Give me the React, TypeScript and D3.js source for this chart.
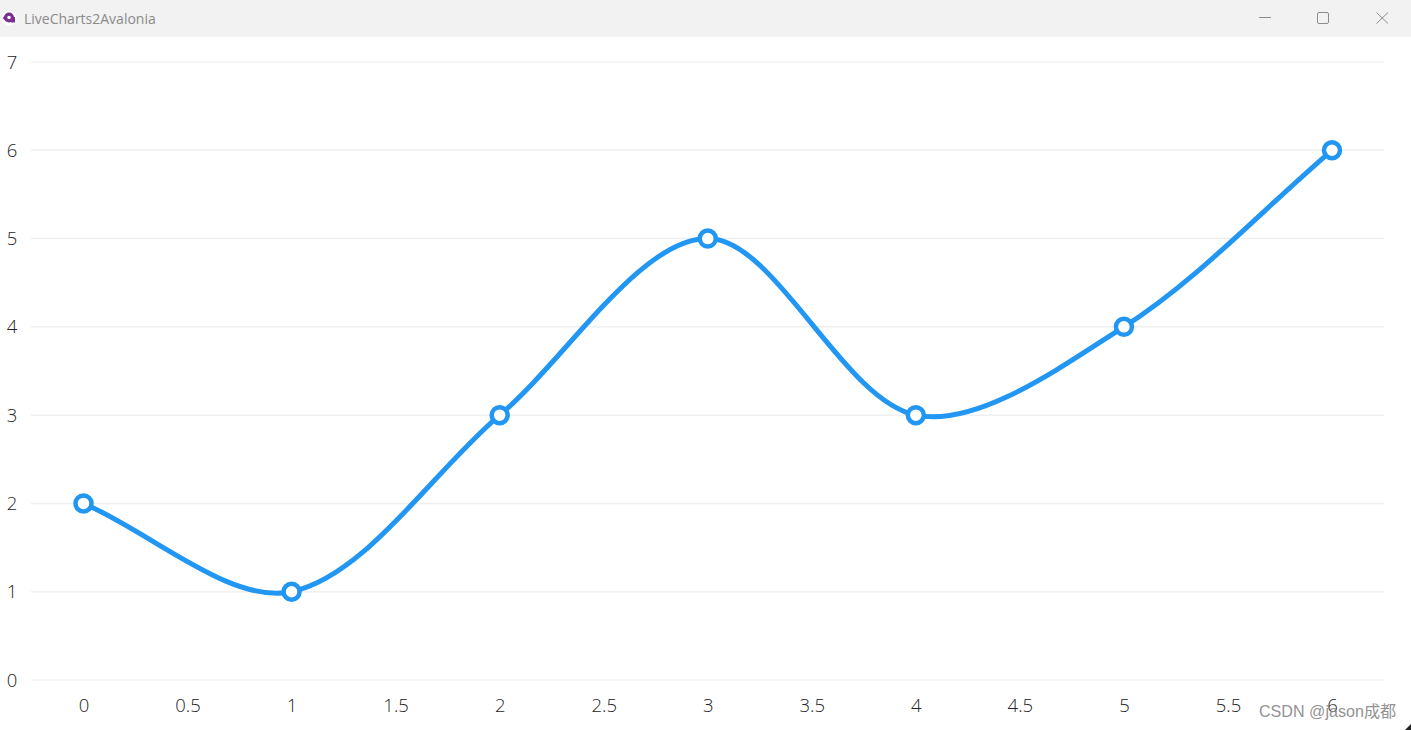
import React from "react";
import * as d3 from "d3";

const title = "LiveCharts2Avalonia";
const watermark = "CSDN @jason成都";
const xValues = [0, 1, 2, 3, 4, 5, 6];
const yValues = [2, 1, 3, 5, 3, 4, 6];
const xTicks = [0, 0.5, 1, 1.5, 2, 2.5, 3, 3.5, 4, 4.5, 5, 5.5, 6];
const yTicks = [0, 1, 2, 3, 4, 5, 6, 7];
const smoothness = 0.65;

const x = d3.scaleLinear().domain([0, 6]).range([83.5, 1332]);
const y = d3.scaleLinear().domain([0, 7]).range([680, 62]);

// LiveCharts-style cubic smoothing between consecutive points
function smoothPath(pts: [number, number][]): string {
  const p = d3.path();
  p.moveTo(pts[0][0], pts[0][1]);
  for (let i = 0; i < pts.length - 1; i++) {
    const p0 = pts[i - 1] ?? pts[i];
    const p1 = pts[i];
    const p2 = pts[i + 1];
    const p3 = pts[i + 2] ?? p2;
    const c1: [number, number] = [(p0[0] + p1[0]) / 2, (p0[1] + p1[1]) / 2];
    const c2: [number, number] = [(p1[0] + p2[0]) / 2, (p1[1] + p2[1]) / 2];
    const c3: [number, number] = [(p2[0] + p3[0]) / 2, (p2[1] + p3[1]) / 2];
    const l1 = Math.hypot(p1[0] - p0[0], p1[1] - p0[1]);
    const l2 = Math.hypot(p2[0] - p1[0], p2[1] - p1[1]);
    const l3 = Math.hypot(p3[0] - p2[0], p3[1] - p2[1]);
    const k1 = l1 / (l1 + l2);
    const k2 = l2 / (l2 + l3);
    const m1 = [c1[0] + (c2[0] - c1[0]) * k1, c1[1] + (c2[1] - c1[1]) * k1];
    const m2 = [c2[0] + (c3[0] - c2[0]) * k2, c2[1] + (c3[1] - c2[1]) * k2];
    p.bezierCurveTo(
      m1[0] + (c2[0] - m1[0]) * smoothness + p1[0] - m1[0],
      m1[1] + (c2[1] - m1[1]) * smoothness + p1[1] - m1[1],
      m2[0] + (c2[0] - m2[0]) * smoothness + p2[0] - m2[0],
      m2[1] + (c2[1] - m2[1]) * smoothness + p2[1] - m2[1],
      p2[0],
      p2[1]
    );
  }
  return p.toString();
}

const points = xValues.map((v, i) => [x(v), y(yValues[i])] as [number, number]);
const font = "'Open Sans', 'Noto Sans', sans-serif";
const BLUE = "#2196f3";

export default function App() {
  return (
    <svg
      width={1411}
      height={730}
      style={{ position: "absolute", left: 0, top: 0, display: "block", background: "#fff" }}
    >
      <rect x={0} y={0} width={1411} height={37} fill="#f2f2f2" />
      <g>
        <circle cx={9} cy={18} r={7.5} fill="#fff" />
        <circle cx={9} cy={17.5} r={3.4} fill="none" stroke="#7b2f8e" strokeWidth={3.2} />
        <path d="M2.5 18 L6 15 L6 21 Z" fill="#7b2f8e" />
        <rect x={11} y={17} width={4} height={5.5} fill="#7b2f8e" />
      </g>
      <g opacity={0.99}>
        <text x={24} y={23.5} fontFamily={font} fontSize={14} fill="#8a8a8a">
          {title}
        </text>
      </g>
      <line x1={1259} x2={1271} y1={17.5} y2={17.5} stroke="#8c8c8c" strokeWidth={1} />
      <rect x={1317.5} y={12.5} width={11} height={11} rx={1.5} fill="none" stroke="#8c8c8c" strokeWidth={1} />
      <path d="M1376.5 12.5 L1388 23.5 M1388 12.5 L1376.5 23.5" stroke="#8c8c8c" strokeWidth={1} fill="none" />

      {yTicks.map((t) => (
        <line key={t} x1={31} x2={1384} y1={y(t)} y2={y(t)} stroke="#f0f0f0" strokeWidth={1.5} />
      ))}
      <g opacity={0.99}>
        {yTicks.map((t) => (
          <text key={t} x={12} y={y(t) + 6.5} textAnchor="middle" fontFamily={font} fontWeight={300} fontSize={18.5} fill="#222">
            {t}
          </text>
        ))}
        {xTicks.map((t) => (
          <text key={t} x={x(t) + 0.5} y={712} textAnchor="middle" fontFamily={font} fontWeight={300} fontSize={18.5} fill="#222">
            {t}
          </text>
        ))}
      </g>

      <path d={smoothPath(points)} fill="none" stroke={BLUE} strokeWidth={5} />
      {points.map((p, i) => (
        <circle key={i} cx={p[0]} cy={p[1]} r={8} fill="#fff" stroke={BLUE} strokeWidth={4.5} />
      ))}

      <g opacity={0.9}>
        <text x={1259} y={717} fontFamily="'Liberation Sans', 'Noto Sans CJK SC', sans-serif" fontSize={16.1} fill="#888">
          {watermark}
        </text>
      </g>
      <path d="M1405 730 L1411 724 L1411 730 Z" fill="#222" />
    </svg>
  );
}
